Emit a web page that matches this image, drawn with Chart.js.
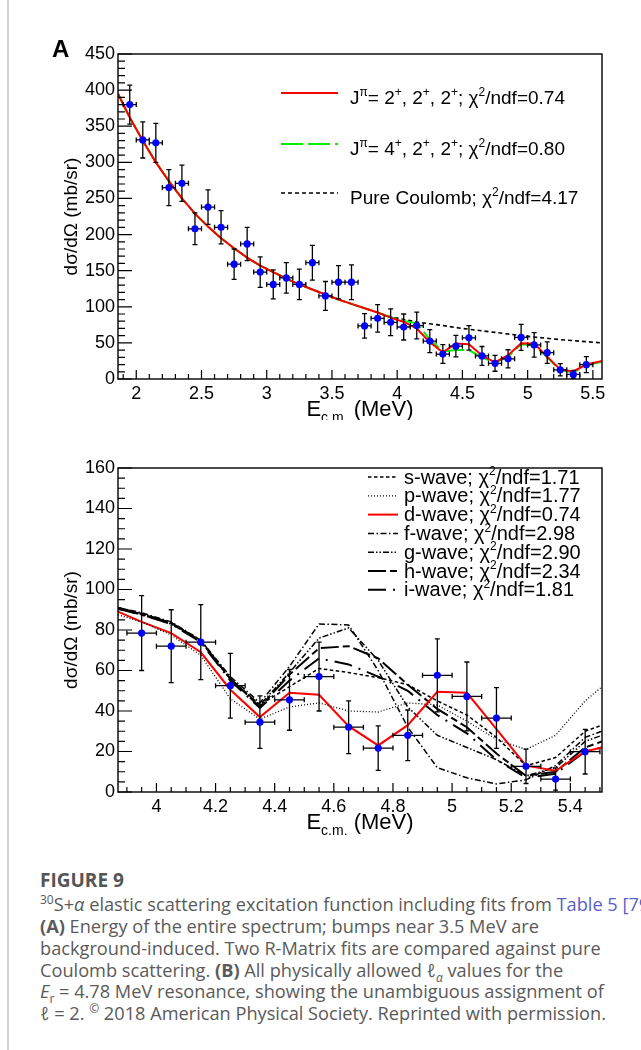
<!DOCTYPE html>
<html>
<head>
<meta charset="utf-8">
<script src="https://cdn.jsdelivr.net/npm/chart.js@4/dist/chart.umd.min.js"></script>
<style>
  body { margin: 0; width: 641px; height: 1050px; overflow: hidden; background: #fff; position: relative; }
  #rule { position: absolute; left: 7px; top: 0; width: 1.5px; height: 1050px; background: #d2d2d2; }
  canvas { position: absolute; left: 0; }
  #chartA { top: 0; }
  #chartB { top: 420px; }
  .cap { position: absolute; left: 40px; white-space: nowrap; font-family: "Open Sans", sans-serif; font-size: 18.2px; line-height: 22px; color: #5a5a5a; }
  .cap.head { font-weight: bold; font-size: 19px; color: #555; }
  .cap .lnk { color: #5a5fc8; }
  .cap sup, .cap sub { font-size: 12px; line-height: 0; }
</style>
</head>
<body>
<div id="rule"></div>
<canvas id="chartA" width="641" height="420"></canvas>
<canvas id="chartB" width="641" height="420"></canvas>

<div class="cap head" style="top:869px">FIGURE 9</div>
<div class="cap" style="top:893px"><sup>30</sup>S+<i>α</i> elastic scattering excitation function including fits from <span class="lnk">Table 5 [79]</span>.</div>
<div class="cap" style="top:915px"><b>(A)</b> Energy of the entire spectrum; bumps near 3.5 MeV are</div>
<div class="cap" style="top:937px">background-induced. Two R-Matrix fits are compared against pure</div>
<div class="cap" style="top:959px">Coulomb scattering. <b>(B)</b> All physically allowed <i>ℓ</i><sub><i>α</i></sub> values for the</div>
<div class="cap" style="top:980px"><i>E</i><sub>r</sub> = 4.78 MeV resonance, showing the unambiguous assignment of</div>
<div class="cap" style="top:1002px"><i>ℓ</i> = 2. <sup>©</sup> 2018 American Physical Society. Reprinted with permission.</div>

<script>
// measured excitation function (bin centres, MeV) and cross sections (mb/sr)
const energy = [1.95, 2.05, 2.15, 2.25, 2.35, 2.45, 2.55, 2.65, 2.75, 2.85, 2.95, 3.05, 3.15, 3.25, 3.35, 3.45, 3.55, 3.65,
                3.75, 3.85, 3.95, 4.05, 4.15, 4.25, 4.35, 4.45, 4.55, 4.65, 4.75, 4.85, 4.95, 5.05, 5.15, 5.25, 5.35, 5.45];
const xsec = [380, 331, 327, 265, 271, 208, 238, 210, 159, 187, 148, 131, 140, 131, 161, 115, 134, 134,
              73.5, 84, 78.5, 72, 74, 52.5, 34.5, 45.5, 57, 32, 21.7, 28, 57.6, 47.2, 36.5, 12.7, 6.4, 19.9];
const xsecErr = [27, 25, 27, 25, 25, 22, 24, 23, 21, 23, 21, 20, 21, 21, 24, 20, 23, 24,
                 17, 19, 18.5, 18, 18.5, 16, 13, 15, 17, 13, 11, 12.5, 18, 17, 15, 8.5, 5.5, 11];
const binHalfWidth = 0.05;

// panel A fits
const fitEnergyA = [1.86, 1.95, 2.05, 2.15, 2.25, 2.35, 2.45, 2.55, 2.65, 2.75, 2.85, 2.95, 3.05, 3.15, 3.25, 3.35, 3.45, 3.55, 3.65,
                    3.75, 3.85, 3.95, 4.05, 4.15, 4.25, 4.35, 4.45, 4.55, 4.65, 4.75, 4.85, 4.95, 5.05, 5.15, 5.25, 5.35, 5.45, 5.57];
const fit222 = [395, 362, 330, 300, 274, 250, 229, 211, 195, 181, 168, 157, 148, 139, 131, 124, 117, 110, 104,
                98, 92, 85, 79, 70, 51, 37, 49, 48, 32.5, 23, 33, 49.5, 49, 31, 13, 10.5, 20, 25];
const fit422 = [395, 362, 330, 300, 274, 250, 229, 211, 195, 181, 168, 157, 148, 139, 131, 124, 117, 110, 104,
                98, 92, 85.5, 80.5, 77, 55, 38, 40, 40, 30, 22.5, 31, 48, 46.5, 30, 12, 9.5, 19, 24];
const coulombEnergy = [1.86, 1.95, 2.05, 2.15, 2.25, 2.35, 2.45, 2.55, 2.65, 2.75, 2.85, 2.95, 3.05, 3.15, 3.25, 3.35, 3.45, 3.55, 3.65,
                       3.75, 3.85, 3.95, 4.05, 4.15, 4.25, 4.35, 4.5, 4.75, 5.0, 5.25, 5.57];
const coulomb = [395, 362, 330, 300, 274, 250, 229, 211, 195, 181, 168, 157, 148, 139, 131, 124, 117, 110, 104,
                 98, 92, 86, 82.5, 79, 76.5, 74, 70, 64.5, 59, 54.5, 50];
const chi2A = [0.74, 0.80, 4.17];

// panel B: one curve per l-value
const waveEnergy = [3.87, 3.95, 4.05, 4.15, 4.25, 4.35, 4.45, 4.55, 4.65, 4.75, 4.85, 4.95, 5.05, 5.15, 5.25, 5.35, 5.45, 5.507];
const sWave = [91, 88, 83.5, 75, 56, 43, 52, 61, 59, 56.5, 53, 45, 38, 27, 13, 17, 30, 33];
const pWave = [87.5, 84, 77.5, 67.5, 46, 36, 42, 44, 40, 39.5, 44, 43, 35, 26, 21, 28, 45, 52];
const dWave = [89, 84, 78.5, 69, 50.5, 37, 49, 48, 32.5, 23, 33, 49.5, 49, 31, 13, 10.5, 20, 22];
const fWave = [91, 88.5, 84, 75, 57, 44, 62, 83, 82.5, 60, 32, 12, 7, 4, 6, 13, 27, 30];
const gWave = [90.5, 87.5, 83, 74.5, 55.5, 43, 59, 76, 81, 65, 42, 28, 22, 16, 8, 12, 25, 28];
const hWave = [91, 88, 83.5, 74.5, 56, 42, 58, 71, 72, 66, 53, 41, 32, 19, 8, 10, 22, 25];
const iWave = [90.5, 87.5, 83, 74, 55, 41.5, 55, 66, 63, 57, 50, 38, 29, 16, 7, 9, 20, 22];
const waveNames = ['s', 'p', 'd', 'f', 'g', 'h', 'i'];
const chi2B = [1.71, 1.77, 0.74, 2.98, 2.90, 2.34, 1.81];

const FONT = "'Liberation Sans', Arial, Helvetica, sans-serif";
const pts = (xs, ys) => xs.map((x, i) => ({ x: x, y: ys[i] }));

function drawRich(ctx, parts, x, y, size) {
  for (const [t, k] of parts) {
    const s = k === 'n' ? size : Math.round(size * 0.62);
    ctx.font = s + 'px ' + FONT;
    const dy = k === 'sup' ? -size * 0.42 : (k === 'sub' ? size * 0.28 : 0);
    ctx.fillText(t, x, y + dy);
    x += ctx.measureText(t).width;
  }
  return x;
}
function richWidth(ctx, parts, size) {
  let w = 0;
  for (const [t, k] of parts) {
    ctx.font = (k === 'n' ? size : Math.round(size * 0.62)) + 'px ' + FONT;
    w += ctx.measureText(t).width;
  }
  return w;
}

function axisMarks(scale, major, minor) {
  const out = [];
  const n0 = Math.ceil(scale.min / minor - 1e-6), n1 = Math.floor(scale.max / minor + 1e-6);
  for (let n = n0; n <= n1; n++) {
    const v = n * minor, r = v / major;
    out.push({ px: scale.getPixelForValue(v), major: Math.abs(r - Math.round(r)) < 1e-6 });
  }
  return out;
}

// frame, inward ticks, titles, error bars and legend
const decor = {
  id: 'decor',
  beforeDatasetDraw(chart, args) {
    const ds = chart.data.datasets[args.index];
    if (!ds.errY) return;
    const { ctx, chartArea: a, scales: { x, y } } = chart;
    ctx.save();
    ctx.beginPath();
    ctx.rect(a.left, a.top, a.right - a.left, a.bottom - a.top);
    ctx.clip();
    ctx.strokeStyle = '#000';
    ctx.lineWidth = 1.3;
    ctx.beginPath();
    ds.data.forEach((p, i) => {
      const px = x.getPixelForValue(p.x), py = y.getPixelForValue(p.y);
      const xl = x.getPixelForValue(p.x - ds.errX), xr = x.getPixelForValue(p.x + ds.errX);
      const yt = y.getPixelForValue(p.y + ds.errY[i]), yb = y.getPixelForValue(p.y - ds.errY[i]);
      ctx.moveTo(xl, py); ctx.lineTo(xr, py);
      ctx.moveTo(xl, py - 2.5); ctx.lineTo(xl, py + 2.5);
      ctx.moveTo(xr, py - 2.5); ctx.lineTo(xr, py + 2.5);
      ctx.moveTo(px, yt); ctx.lineTo(px, yb);
      ctx.moveTo(px - 2.5, yt); ctx.lineTo(px + 2.5, yt);
      ctx.moveTo(px - 2.5, yb); ctx.lineTo(px + 2.5, yb);
    });
    ctx.stroke();
    ctx.restore();
  },
  afterDraw(chart, args, o) {
    const { ctx, chartArea: a } = chart;
    const xs = chart.scales.x, ys = chart.scales.y;
    ctx.save();
    ctx.strokeStyle = '#000';
    ctx.lineWidth = 1.4;
    ctx.strokeRect(a.left, a.top, a.right - a.left, a.bottom - a.top);
    ctx.lineWidth = 1.2;
    ctx.beginPath();
    for (const m of axisMarks(xs, o.xMajor, o.xMinor)) {
      ctx.moveTo(m.px, a.bottom); ctx.lineTo(m.px, a.bottom - (m.major ? 9 : 5));
    }
    for (const m of axisMarks(ys, o.yMajor, o.yMinor)) {
      ctx.moveTo(a.left, m.px); ctx.lineTo(a.left + (m.major ? 14 : 7), m.px);
    }
    ctx.stroke();

    ctx.fillStyle = '#000';
    ctx.textAlign = 'left';
    ctx.textBaseline = 'alphabetic';
    ctx.font = 'bold 24px ' + FONT;
    ctx.fillText(o.panel, 52, o.panelY);

    const xt = [['E', 'n'], ['c.m.', 'sub'], [' (MeV)', 'n']];
    const w = richWidth(ctx, xt, 22);
    drawRich(ctx, xt, (a.left + a.right) / 2 - w / 2, a.bottom + 37, 22);

    ctx.save();
    ctx.translate(72, (a.top + a.bottom) / 2);
    ctx.rotate(-Math.PI / 2);
    ctx.font = '19px ' + FONT;
    ctx.textAlign = 'center';
    ctx.textBaseline = 'middle';
    ctx.fillText('dσ/dΩ (mb/sr)', 0, 0);
    ctx.restore();

    const lg = o.legend;
    ctx.textAlign = 'left';
    ctx.textBaseline = 'alphabetic';
    lg.rows.forEach((r) => {
      const ds = chart.data.datasets[r.ds];
      ctx.save();
      ctx.strokeStyle = ds.borderColor;
      ctx.lineWidth = ds.borderWidth;
      ctx.setLineDash(ds.borderDash || []);
      ctx.beginPath();
      ctx.moveTo(lg.x0, r.y - lg.lineUp);
      ctx.lineTo(lg.x1, r.y - lg.lineUp);
      ctx.stroke();
      ctx.restore();
      ctx.fillStyle = '#000';
      drawRich(ctx, r.parts, lg.tx, r.y, lg.size);
    });
    ctx.restore();
  }
};

function tickFmt(v) { return String(+v.toFixed(2)); }

function baseOptions(xr, yr, pad, xHeight, plug) {
  return {
    responsive: false,
    animation: false,
    layout: { padding: { top: pad, right: 39, left: 0, bottom: 0 } },
    plugins: { legend: { display: false }, tooltip: { enabled: false }, decor: plug },
    scales: {
      x: {
        type: 'linear', min: xr[0], max: xr[1],
        grid: { display: false, drawTicks: false }, border: { display: false },
        ticks: { stepSize: xr[2], includeBounds: false, autoSkip: false, maxRotation: 0, padding: 4,
                 color: '#000', font: { family: FONT, size: 18 }, callback: tickFmt },
        afterFit(s) { s.height = xHeight; }
      },
      y: {
        type: 'linear', min: yr[0], max: yr[1],
        grid: { display: false, drawTicks: false }, border: { display: false },
        ticks: { stepSize: yr[2], includeBounds: false, autoSkip: false, padding: 3,
                 color: '#000', font: { family: FONT, size: 18 }, callback: tickFmt },
        afterFit(s) { s.width = 118; }
      }
    }
  };
}

const lineDs = (label, xs, ys, color, width, dash) => ({
  label: label, data: pts(xs, ys), showLine: true, pointRadius: 0, borderColor: color,
  borderWidth: width, borderDash: dash, fill: false, tension: 0
});

const dataPts = (xs, ys, es) => ({
  label: 'data', data: pts(xs, ys), errY: es, errX: binHalfWidth, showLine: false,
  pointRadius: 3.6, pointBackgroundColor: '#0000ff', pointBorderWidth: 0
});

const sup = (t) => [t, 'sup'];
const nn = (t) => [t, 'n'];

new Chart(document.getElementById('chartA'), {
  type: 'scatter',
  data: {
    datasets: [
      dataPts(energy, xsec, xsecErr),
      lineDs('2+,2+,2+', fitEnergyA, fit222, '#ff0000', 2, []),
      lineDs('4+,2+,2+', fitEnergyA, fit422, '#00ee00', 2, [22, 5]),
      lineDs('Coulomb', coulombEnergy, coulomb, '#000000', 1.6, [4, 3])
    ]
  },
  options: baseOptions([1.86, 5.57, 0.5], [0, 450, 50], 54, 41, {
    panel: 'A', panelY: 57, xMajor: 0.5, xMinor: 0.1, yMajor: 50, yMinor: 10,
    legend: {
      x0: 281, x1: 338, tx: 350, size: 19, lineUp: 11,
      rows: [
        { ds: 1, y: 104, parts: [nn('J'), sup('π'), nn('= 2'), sup('+'), nn(', 2'), sup('+'), nn(', 2'), sup('+'), nn('; χ'), sup('2'), nn('/ndf=' + chi2A[0].toFixed(2))] },
        { ds: 2, y: 155, parts: [nn('J'), sup('π'), nn('= 4'), sup('+'), nn(', 2'), sup('+'), nn(', 2'), sup('+'), nn('; χ'), sup('2'), nn('/ndf=' + chi2A[1].toFixed(2))] },
        { ds: 3, y: 204, parts: [nn('Pure Coulomb; χ'), sup('2'), nn('/ndf=' + chi2A[2].toFixed(2))] }
      ]
    }
  }),
  plugins: [decor]
});

const waveStyles = [
  ['#000000', 1.5, [3.5, 2.5]],
  ['#000000', 1.3, [1, 2]],
  ['#ff0000', 2, []],
  ['#000000', 1.5, [6, 2.5, 1.5, 2.5]],
  ['#000000', 1.5, [6, 2, 1.5, 2, 1.5, 2]],
  ['#000000', 2, [18, 4, 7, 4]],
  ['#000000', 2, [18, 7, 2, 7]]
];
const waves = [sWave, pWave, dWave, fWave, gWave, hWave, iWave];

new Chart(document.getElementById('chartB'), {
  type: 'scatter',
  data: {
    datasets: [dataPts(energy.slice(20), xsec.slice(20), xsecErr.slice(20))].concat(
      waves.map((w, k) => lineDs(waveNames[k] + '-wave', waveEnergy, w, waveStyles[k][0], waveStyles[k][1], waveStyles[k][2])))
  },
  options: baseOptions([3.87, 5.507, 0.2], [0, 160, 20], 48, 48, {
    panel: 'B', panelY: 462, xMajor: 0.2, xMinor: 0.05, yMajor: 20, yMinor: 5,
    legend: {
      x0: 368, x1: 398, tx: 404, size: 20, lineUp: 6.5,
      rows: waveNames.map((n, k) => ({
        ds: k + 1, y: 63.5 + 18.8 * k,
        parts: [nn(n + '-wave; χ'), sup('2'), nn('/ndf=' + chi2B[k].toFixed(2))]
      }))
    }
  }),
  plugins: [decor]
});
</script>
</body>
</html>
